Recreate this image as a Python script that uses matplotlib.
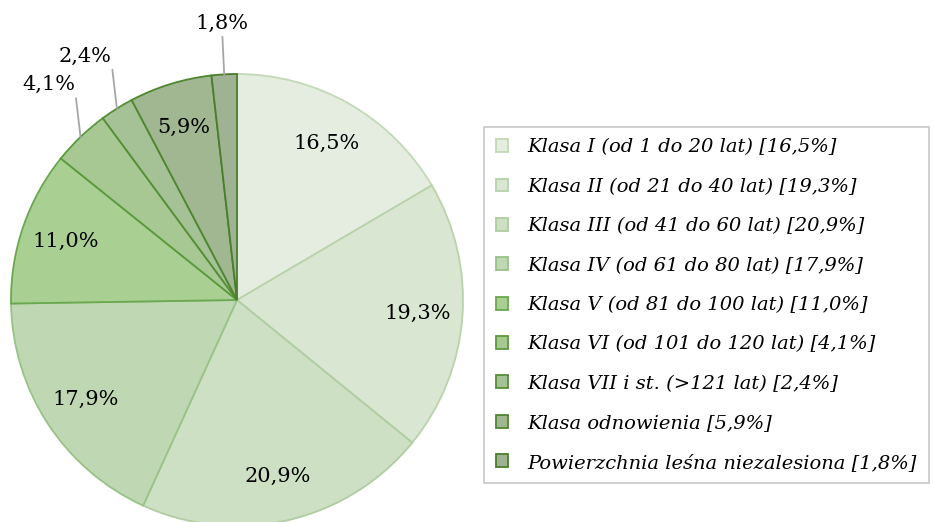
import numpy as np
import matplotlib.pyplot as plt
from matplotlib.patches import Patch

# forest area by age class, percent
classes = [
    "Klasa I (od 1 do 20 lat)",
    "Klasa II (od 21 do 40 lat)",
    "Klasa III (od 41 do 60 lat)",
    "Klasa IV (od 61 do 80 lat)",
    "Klasa V (od 81 do 100 lat)",
    "Klasa VI (od 101 do 120 lat)",
    "Klasa VII i st. (>121 lat)",
    "Klasa odnowienia",
    "Powierzchnia leśna niezalesiona",
]
shares = [16.5, 19.3, 20.9, 17.9, 11.0, 4.1, 2.4, 5.9, 1.8]

fills = ["#e4ede0", "#d9e6d2", "#cde0c4", "#bfd7b2", "#a9cf93",
         "#a7c893", "#a5c196", "#a0b791", "#9fb294"]
edges = ["#c2d9b6", "#b8d3ab", "#afcda0", "#99c386", "#6aa84f",
         "#5a9a3c", "#548f36", "#4f8630", "#4a7d2c"]

def fmt(v):
    return f"{v:.1f}%".replace(".", ",")

W, H = 934, 522
fig = plt.figure(figsize=(W / 100, H / 100), dpi=100)
ax = fig.add_axes([0, 0, 1, 1])

cx, cy, R = 237, 222, 226
font = "DejaVu Serif"

wedges, _ = ax.pie(shares, startangle=90, counterclock=False,
                   colors=fills, radius=R, center=(cx, cy),
                   wedgeprops=dict(linewidth=1.3), frame=True)
for w, ec in zip(wedges, edges):
    w.set_edgecolor(ec)
ax.axis("off")
ax.set_xlim(0, W)
ax.set_ylim(0, H)
ax.set_aspect("equal")

for w, v in zip(wedges, shares):
    deg = ((w.theta1 + w.theta2) / 2) % 360
    mid = np.deg2rad(deg)
    if v >= 5:
        x = cx + 0.80 * R * np.cos(mid)
        y = cy + 0.80 * R * np.sin(mid)
        ax.text(x, y, fmt(v), ha="center", va="center",
                fontsize=15, family=font)
    else:
        # small slices: label above the rim with a near-vertical leader
        ex = cx + R * np.cos(mid)
        ey = cy + R * np.sin(mid)
        if deg > 100:
            off, ha, rx = (-5, 0.19 * R), "right", 1.0
        else:
            off, ha, rx = (-2, 0.185 * R), "center", 0.5
        ax.annotate(fmt(v), xy=(ex, ey), xytext=off,
                    textcoords="offset pixels",
                    ha=ha, va="bottom", fontsize=15, family=font,
                    arrowprops=dict(arrowstyle="-", color="#a6a6a6", lw=1.3,
                                    shrinkA=1, shrinkB=0,
                                    relpos=(rx, 0)))

handles = [Patch(facecolor=f, edgecolor=e, linewidth=1.3)
           for f, e in zip(fills, edges)]
labels = [f"{c} [{fmt(v)}]" for c, v in zip(classes, shares)]
leg = fig.legend(handles, labels, loc="center left",
                 bbox_to_anchor=(484 / W, 1 - 305 / H),
                 prop=dict(family=font, style="italic", size=14),
                 frameon=True, fancybox=False, edgecolor="#bfbfbf",
                 labelspacing=1.1, handlelength=0.65, handleheight=0.65,
                 handletextpad=1.0, borderpad=0.6, borderaxespad=0)
leg.get_frame().set_linewidth(1.3)

fig.savefig("out.png", dpi=100)
